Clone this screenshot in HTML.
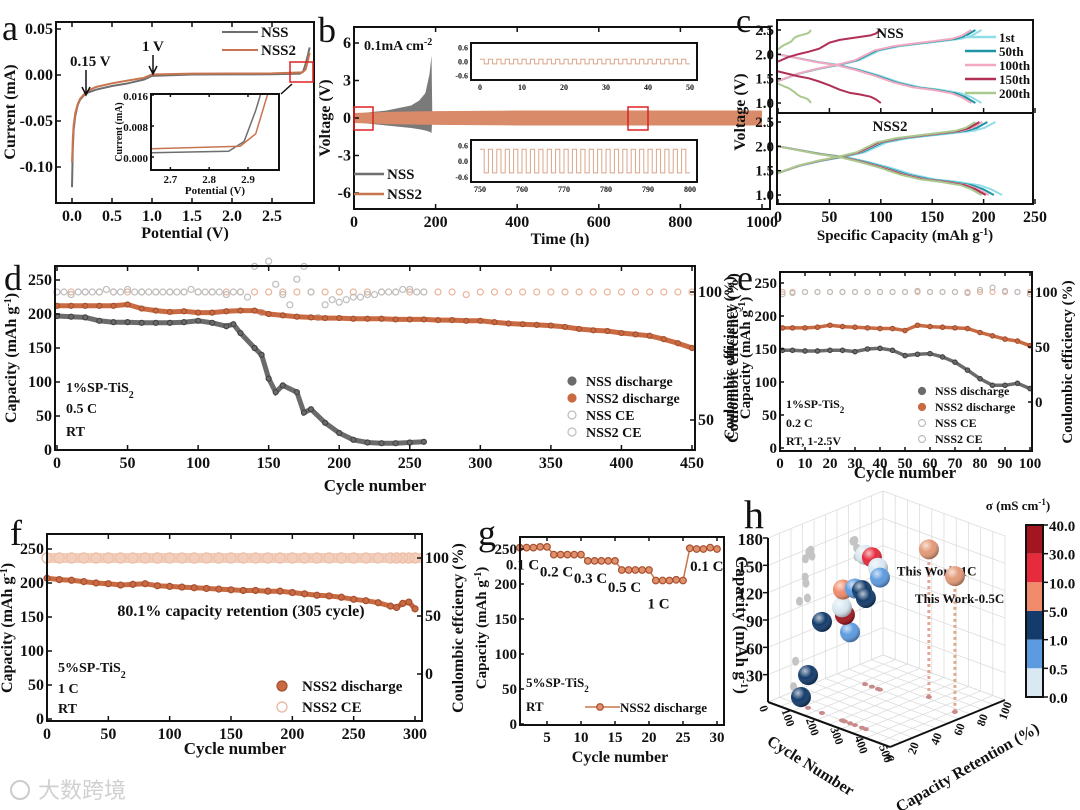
<!DOCTYPE html>
<html><head><meta charset="utf-8"><style>
html,body{margin:0;padding:0;background:#fff}
svg{display:block;font-family:"Liberation Serif","Noto Serif CJK SC",serif;font-weight:bold}
</style></head><body>
<svg id="fig" width="1080" height="810" viewBox="0 0 1080 810" xmlns="http://www.w3.org/2000/svg">
<defs>
<clipPath id="clipA"><rect x="56" y="22" width="258" height="181"/></clipPath>
<clipPath id="clipAi"><rect x="151" y="94" width="128" height="76"/></clipPath>
<clipPath id="clipB"><rect x="354" y="27" width="416" height="182"/></clipPath>
<clipPath id="clipCt"><rect x="777" y="20" width="256" height="93"/></clipPath>
<clipPath id="clipCb"><rect x="777" y="113" width="256" height="91"/></clipPath>
<radialGradient id="shine" cx="35%" cy="30%" r="70%"><stop offset="0" stop-color="#fff" stop-opacity="0.7"/><stop offset="0.5" stop-color="#fff" stop-opacity="0"/><stop offset="1" stop-color="#000" stop-opacity="0.3"/></radialGradient>
</defs>
<g id="root"></g>
</svg>
<script>
// ---------- DATA ----------
// panel a (CV)
const aNssV=[0,0.005,0.01,0.02,0.04,0.07,0.1,0.15,0.2,0.3,0.5,0.7,0.9,1.0,1.5,2.0,2.5,2.85,2.89,2.92,2.95,2.97];
const aNssI=[-0.122,-0.1,-0.08,-0.06,-0.045,-0.033,-0.027,-0.022,-0.019,-0.016,-0.012,-0.009,-0.005,-0.001,0.0005,0.0007,0.0008,0.0015,0.004,0.012,0.022,0.03];
const aNss2V=[0,0.005,0.01,0.02,0.04,0.07,0.1,0.15,0.2,0.3,0.5,0.7,0.9,1.0,1.5,2.0,2.5,2.88,2.92,2.95,2.97];
const aNss2I=[-0.095,-0.085,-0.07,-0.055,-0.042,-0.032,-0.026,-0.021,-0.017,-0.013,-0.009,-0.006,-0.003,0.0005,0.0015,0.0016,0.0017,0.0028,0.006,0.016,0.024];
const aXTicks=[0,0.5,1.0,1.5,2.0,2.5];
const aYTicks=[0.05,0,-0.05,-0.10];
const aYLabels=["0.05","0.00","-0.05","-0.10"];
const aInXTicks=[2.7,2.8,2.9];
const aInYTicks=[0.016,0.008,0];
const aInYLabels=["0.016","0.008","0.000"];
// panel b (voltage profile)
const bNssT=[0,20,50,80,110,140,160,175,185,190,192];
const bNssUp=[0.3,0.4,0.5,0.6,0.8,1.0,1.4,2.0,3.5,5.0,0];
const bNssLo=[-0.3,-0.4,-0.5,-0.6,-0.7,-0.8,-0.9,-1.0,-1.1,-1.2,0];
const bNss2T=[0,100,200,400,600,800,1000];
const bNss2Amp=[0.4,0.5,0.55,0.6,0.6,0.6,0.6];
const bXTicks=[0,200,400,600,800,1000];
const bYTicks=[6,3,0,-3,-6];
const bInsetTopAmp=[0.1];
const bInsetBotAmp=[0.45];
// panel c
const cFrac=[0,0.1,0.2,0.3,0.4,0.5,0.6,0.7,0.8,0.9,0.95,1];
const cChgV=[1.45,1.6,1.7,1.78,1.88,2.08,2.17,2.22,2.27,2.32,2.38,2.5];
const cDisV=[2.0,1.92,1.84,1.78,1.68,1.56,1.42,1.32,1.27,1.2,1.12,1.0];
const cNames=["1st","50th","100th","150th","200th"];
const cNssCap=[198,192,188,100,32];
const cNss2Cap=[218,210,205,202,198];
const cNssChgStart=[1.45,1.45,1.45,1.85,2.1];
const cNssDisStart=[2.0,2.0,2.0,1.65,1.4];
const cXTicks=[0,50,100,150,200,250];
const cYTicks=[1.0,1.5,2.0,2.5];
// panel d
const dNssC=[0,10,20,30,40,50,60,70,80,90,100,110,120,125,130,140,145,150,155,160,170,175,180,190,200,210,220,230,240,250,260];
const dNssQ=[197,196,195,190,188,188,187,187,187,188,190,187,182,185,172,150,140,105,85,95,85,55,60,40,25,15,11,10,10,11,12];
const dNss2C=[0,10,20,30,40,50,60,70,80,90,100,110,120,130,140,150,160,170,180,190,200,210,220,230,240,250,260,270,280,290,300,310,320,330,340,350,360,370,380,390,400,410,420,430,440,450];
const dNss2Q=[212,212,212,212,212,214,208,205,203,204,202,202,204,205,205,200,198,196,195,194,194,193,193,193,192,192,192,191,191,190,190,188,186,185,184,183,181,178,176,175,172,170,168,163,157,150];
const dNssCEc=[0,5,10,15,20,25,30,35,40,45,50,55,60,65,70,75,80,85,90,95,100,105,110,115,120,125,130,135,140,145,150,155,160,165,170,175,180,185,190,195,200,205,210,215,220,225,230,235,240,245,250,255,260];
const dNssCE=[100,100,99,100,100,100,100,101,100,100,101,100,100,100,100,100,100,100,100,101,100,100,100,100,99,100,100,98,110,92,112,103,99,95,105,110,100,90,95,97,96,97,98,98,99,99,100,100,100,101,101,100,100];
const dNss2CEc=[0,10,20,30,40,50,60,70,80,90,100,110,120,130,140,150,160,170,180,190,200,210,220,230,240,250,260,270,280,290,300,310,320,330,340,350,360,370,380,390,400,410,420,430,440,450];
const dNss2CE=[100,100,100,100,100,100,100,100,100,100,100,100,100,100,100,100,100,100,100,100,100,100,100,100,100,100,100,100,100,99,100,100,100,100,100,100,100,100,100,100,100,100,100,100,100,100];
const dXTicks=[0,50,100,150,200,250,300,350,400,450];
const dYTicks=[0,50,100,150,200,250];
const dY2Ticks=[50,100];
// panel e
const eC=[1,5,10,15,20,25,30,35,40,45,50,55,60,65,70,75,80,85,90,95,100];
const eNss=[148,148,147,147,148,148,146,150,151,148,140,142,143,138,130,118,105,95,95,98,90];
const eNss2=[182,182,182,183,186,184,183,182,181,181,178,186,184,183,182,181,175,170,165,162,155];
const eNssCE=[98,99,100,100,100,100,100,100,100,100,100,101,100,100,100,99,102,104,101,100,98];
const eNss2CE=[100,100,100,100,100,100,100,100,100,100,100,100,100,100,100,100,100,100,100,100,100];
const eXTicks=[0,10,20,30,40,50,60,70,80,90,100];
const eYTicks=[0,50,100,150,200,250];
const eY2Ticks=[0,50,100];
// panel f
const fC=[0,10,20,30,40,50,60,70,80,90,100,110,120,130,140,150,160,170,180,190,200,210,220,230,240,250,260,270,280,285,290,295,300];
const fQ=[207,205,204,202,200,199,197,198,199,196,195,194,193,192,191,190,189,189,188,188,186,184,182,181,179,176,174,171,166,164,170,172,162];
const fCE=[100,100,100,100,100,100,100,100,100,100,100,100,100,100,100,100,100,100,100,100,100,100,100,100,100,100,100,100,100,100,100,100,100];
const fXTicks=[0,50,100,150,200,250,300];
const fYTicks=[0,50,100,150,200,250];
const fY2Ticks=[0,50,100];
// panel g
const gC=[1,2,3,4,5,6,7,8,9,10,11,12,13,14,15,16,17,18,19,20,21,22,23,24,25,26,27,28,29,30];
const gQ=[252,252,252,253,253,242,242,242,242,242,233,233,233,233,233,220,220,220,220,220,205,205,205,206,205,251,250,250,252,250];
const gRates=["0.1 C","0.2 C","0.3 C","0.5 C","1 C","0.1 C"];
const gXTicks=[5,10,15,20,25,30];
const gYTicks=[0,50,100,150,200,250];
// panel h
const hCycle=[88,117,174,289,268,256,260,309,338,354,115,143,168,176];
const hRet=[10,10,10,10,10,10,10,10,10,10,60,60,60,60];
const hCap=[9,36,100,100,117,124,144,150,151,144,142,142,133,123];
const hSigma=[3,3,3,0.7,35,0.2,7,0.7,3,3,0.2,20,0.2,0.7];
const hWorkCycle=[320,455];
const hWorkRet=[72,66];
const hWorkCap=[162,149];
const hWorkLabel=["This Work-1C","This Work-0.5C"];
const hCapTicks=[30,60,90,120,150,180];
const hCycTicks=[0,100,200,300,400,500];
const hRetTicks=[0,20,40,60,80,100];
const hBarBounds=["40.0","30.0","10.0","5.0","1.0","0.5","0.0"];
const hBarLimits=[40,30,10,5,1,0.5,0];

// ---------- HELPERS ----------
const NS="http://www.w3.org/2000/svg";
const root=document.getElementById('root');
function el(tag,attrs,name,parent){
  const e=document.createElementNS(NS,tag);
  for(const k in attrs) e.setAttribute(k,attrs[k]);
  
  
  (parent||root).appendChild(e);
  return e;
}
function tx(x,y,s,size,name,opt){
  opt=opt||{};
  const t=el('text',{x:x,y:y,'font-size':size,'text-anchor':opt.anchor||'start',fill:opt.fill||'#111','font-weight':opt.weight||'bold'},name,opt.parent);
  if(opt.rot!==undefined) t.setAttribute('transform','rotate('+opt.rot+' '+x+' '+y+')');
  if(opt.family) t.setAttribute('font-family',opt.family);
  t.innerHTML=s;
  return t;
}
function L(d0,d1,p0,p1){return v=>p0+(v-d0)*(p1-p0)/(d1-d0);}
function frame(x0,y0,x1,y1,name){el('rect',{x:x0,y:y0,width:x1-x0,height:y1-y0,fill:'none',stroke:'#111','stroke-width':2},name);}
function xticks(vals,sx,y0,y1,size,labels,name,fs){
  vals.forEach((v,i)=>{
    el('line',{x1:sx(v),x2:sx(v),y1:y1,y2:y1-size,stroke:'#111','stroke-width':1.5},name+'-tick');
    el('line',{x1:sx(v),x2:sx(v),y1:y0,y2:y0+size,stroke:'#111','stroke-width':1.5},name+'-tick-top');
    tx(sx(v),y1+(fs||15)+2,labels?labels[i]:String(v),fs||15,name+'-label',{anchor:'middle'});
  });
}
function yticks(vals,sy,x,size,labels,name,fs,right){
  vals.forEach((v,i)=>{
    el('line',{x1:x,x2:right?x-size:x+size,y1:sy(v),y2:sy(v),stroke:'#111','stroke-width':1.5},name+'-tick');
    tx(right?x+3:x-3,sy(v)+5,labels?labels[i]:String(v),fs||15,name+'-label',{anchor:right?'start':'end'});
  });
}
function poly(xs,ys,sx,sy,attrs,name,parent){
  const pts=xs.map((v,i)=>sx(v).toFixed(1)+','+sy(ys[i]).toFixed(1)).join(' ');
  return el('polyline',Object.assign({points:pts,fill:'none'},attrs),name,parent);
}
function dots(xs,ys,sx,sy,r,fill,stroke,name,hollow){
  const g=el('g',{},name);
  xs.forEach((v,i)=>{el('circle',{cx:sx(v),cy:sy(ys[i]),r:r,fill:hollow?'none':fill,stroke:stroke,'stroke-width':1.2},name+'-point',g);});
  return g;
}
function mark(x,y,r,fill,stroke,hollow,name){el('circle',{cx:x,cy:y,r:r,fill:hollow?'none':fill,stroke:stroke,'stroke-width':1.2},name);}
const GRAY='#6b6b6b',ORG='#c96a42',LGRAY='#bdbdbd',LORG='#eab39a';

// ---------- PANEL A ----------
tx(2,40,'a',36,'panel-a-letter',{weight:'normal'});
{
 const sx=L(0,2.5,72,272), sy=L(0,0.05,75,29);
 const g=el('g',{'clip-path':'url(#clipA)'},'panel-a-plot');
 poly(aNssV,aNssI,sx,sy,{stroke:'#6e6e6e','stroke-width':2},'nss-cv-line',g);
 poly(aNss2V,aNss2I,sx,sy,{stroke:'#c8754f','stroke-width':2},'nss2-cv-line',g);
 frame(56,22,314,203,'panel-a-frame');
 xticks(aXTicks,sx,22,203,5,aXTicks.map(v=>v.toFixed(1)),'a-x',16);
 yticks(aYTicks,sy,56,5,aYLabels,'a-y',16);
 tx(185,238,'Potential (V)',16,'a-x-title',{anchor:'middle'});
 tx(15,112,'Current (mA)',16,'a-y-title',{anchor:'middle',rot:-90});
 el('line',{x1:222,x2:258,y1:32,y2:32,stroke:'#6e6e6e','stroke-width':2},'a-legend-nss-line');
 tx(261,37,'NSS',15,'a-legend-nss');
 el('line',{x1:222,x2:258,y1:50,y2:50,stroke:'#c8754f','stroke-width':2},'a-legend-nss2-line');
 tx(261,55,'NSS2',15,'a-legend-nss2');
 tx(70,66,'0.15 V',15,'annotation-0.15v');
 el('path',{d:'M86 70 L86 94 M82 87 L86 95 L90 87',stroke:'#111','stroke-width':1.5,fill:'none'},'arrow-0.15v');
 tx(142,51,'1 V',15,'annotation-1v');
 el('path',{d:'M153 55 L153 73 M149 66 L153 74 L157 66',stroke:'#111','stroke-width':1.5,fill:'none'},'arrow-1v');
 el('rect',{x:290,y:62,width:23,height:20,fill:'none',stroke:'#d22','stroke-width':1.5},'zoom-box-a');
 el('path',{d:'M292 84 L281 94',stroke:'#111','stroke-width':1.5},'zoom-arrow-a');
 el('rect',{x:151,y:94,width:128,height:76,fill:'#fff'},'inset-bg');
 const ix=L(2.65,2.98,151,279), iy=L(0,0.016,157,95);
 const gi=el('g',{'clip-path':'url(#clipAi)'},'inset-plot');
 poly(aNssV,aNssI,ix,iy,{stroke:'#6e6e6e','stroke-width':1.5},'inset-nss-line',gi);
 poly(aNss2V,aNss2I,ix,iy,{stroke:'#c8754f','stroke-width':1.5},'inset-nss2-line',gi);
 frame(151,94,279,170,'inset-frame');
 xticks(aInXTicks,ix,94,170,3,aInXTicks.map(v=>v.toFixed(1)),'inset-x',11);
 yticks(aInYTicks,iy,151,3,aInYLabels,'inset-y',11);
 tx(215,194,'Potential (V)',11,'inset-x-title',{anchor:'middle'});
 tx(122,132,'Current (mA)',10,'inset-y-title',{anchor:'middle',rot:-90});
}
// ---------- PANEL B ----------
tx(318,42,'b',36,'panel-b-letter',{weight:'normal'});
{
 const sx=L(0,1000,354,762), sy=L(0,6,118,43);
 const g=el('g',{'clip-path':'url(#clipB)'},'panel-b-plot');
 let up=bNssT.map((t,i)=>sx(t)+','+sy(bNssUp[i])).join(' ');
 let lo=bNssT.slice().reverse().map((t,i)=>{const j=bNssT.length-1-i;return sx(t)+','+sy(bNssLo[j]);}).join(' ');
 el('polygon',{points:up+' '+lo,fill:'#7a7a7a'},'nss-voltage-envelope',g);
 up=bNss2T.map((t,i)=>sx(t)+','+sy(bNss2Amp[i])).join(' ');
 lo=bNss2T.slice().reverse().map((t,i)=>{const j=bNss2T.length-1-i;return sx(t)+','+sy(-bNss2Amp[j]);}).join(' ');
 el('polygon',{points:up+' '+lo,fill:'#d98a68'},'nss2-voltage-envelope',g);
 frame(354,27,770,209,'panel-b-frame');
 xticks(bXTicks,sx,27,209,5,null,'b-x',16);
 yticks(bYTicks,sy,354,5,null,'b-y',16);
 tx(560,244,'Time (h)',16,'b-x-title',{anchor:'middle'});
 tx(330,118,'Voltage (V)',16,'b-y-title',{anchor:'middle',rot:-90});
 tx(364,50,'0.1mA cm<tspan baseline-shift="super" font-size="10">-2</tspan>',14,'b-current-label');
 el('line',{x1:354,x2:384,y1:174,y2:174,stroke:'#6e6e6e','stroke-width':2.5},'b-legend-nss-line');
 tx(387,179,'NSS',15,'b-legend-nss');
 el('line',{x1:354,x2:384,y1:194,y2:194,stroke:'#c8754f','stroke-width':2.5},'b-legend-nss2-line');
 tx(387,199,'NSS2',15,'b-legend-nss2');
 el('rect',{x:354,y:107,width:19,height:23,fill:'none',stroke:'#d22','stroke-width':1.5},'zoom-box-b1');
 el('rect',{x:628,y:107,width:20,height:23,fill:'none',stroke:'#d22','stroke-width':1.5},'zoom-box-b2');
 [[43,80,0,50,bInsetTopAmp[0],[0,10,20,30,40,50],'inset-top'],[140,182,750,800,bInsetBotAmp[0],[750,760,770,780,790,800],'inset-bottom']].forEach(p=>{
   const [y0,y1,t0,t1,amp,tk,nm]=p;
   el('rect',{x:471,y:y0,width:226,height:y1-y0,fill:'#fff'},nm+'-bg');
   const ix=L(t0,t1,480,690), iy=L(-0.8,0.8,y1,y0);
   let pts=[];
   for(let t=t0;t<t1;t+=1){const v=((t-t0)%2===0)?amp:-amp;pts.push(ix(t)+','+iy(v));pts.push(ix(t+1)+','+iy(v));}
   el('polyline',{points:pts.join(' '),fill:'none',stroke:'#d9a58a','stroke-width':1},nm+'-wave');
   frame(471,y0,697,y1,nm+'-frame');
   [0.6,0,-0.6].forEach(v=>tx(468,iy(v)+3,v.toFixed(1),8,nm+'-y-label',{anchor:'end'}));
   tk.forEach(v=>tx(ix(v),y1+10,String(v),8,nm+'-x-label',{anchor:'middle'}));
 });
}
// ---------- PANEL C ----------
tx(736,32,'c',34,'panel-c-letter',{weight:'normal'});
{
 const sx=L(0,250,778,1035), syT=L(1,2.5,103,30), syB=L(1,2.5,195,122);
 const cols=['#8fdde6','#1e95a5','#f2a9c0','#b03055','#a9c98f'];
 const gt=el('g',{'clip-path':'url(#clipCt)'},'panel-c-top-plot');
 const gb=el('g',{'clip-path':'url(#clipCb)'},'panel-c-bottom-plot');
 cNames.forEach((nm,k)=>{
   const cap=cNssCap[k];
   const chg=cChgV.map(v=>cNssChgStart[k]+(v-cChgV[0])*(2.5-cNssChgStart[k])/(2.5-cChgV[0]));
   const dis=cDisV.map(v=>1.0+(v-1.0)*(cNssDisStart[k]-1.0)/(cDisV[0]-1.0));
   poly(cFrac.map(f=>f*cap),chg,sx,syT,{stroke:cols[k],'stroke-width':2},'nss-charge-'+nm,gt);
   poly(cFrac.map(f=>f*cap),dis,sx,syT,{stroke:cols[k],'stroke-width':2},'nss-discharge-'+nm,gt);
   const c2=cNss2Cap[k];
   poly(cFrac.map(f=>f*c2*0.97),cChgV,sx,syB,{stroke:cols[k],'stroke-width':2},'nss2-charge-'+nm,gb);
   poly(cFrac.map(f=>f*c2),cDisV,sx,syB,{stroke:cols[k],'stroke-width':2},'nss2-discharge-'+nm,gb);
   el('line',{x1:965,x2:996,y1:37+k*14,y2:37+k*14,stroke:cols[k],'stroke-width':2.5},'c-legend-line-'+nm);
   tx(999,42+k*14,nm,13,'c-legend-'+nm);
 });
 frame(777,20,1033,204,'panel-c-frame');
 el('line',{x1:777,x2:1033,y1:113,y2:113,stroke:'#111','stroke-width':2},'panel-c-divider');
 cXTicks.forEach(v=>{el('line',{x1:sx(v),x2:sx(v),y1:204,y2:199,stroke:'#111','stroke-width':1.5},'c-x-tick');el('line',{x1:sx(v),x2:sx(v),y1:113,y2:108,stroke:'#111','stroke-width':1.5},'c-x-tick-mid');tx(sx(v),222,String(v),16,'c-x-label',{anchor:'middle'});});
 yticks(cYTicks,syT,777,4,cYTicks.map(v=>v.toFixed(1)),'c-y-top',15);
 yticks(cYTicks,syB,777,4,cYTicks.map(v=>v.toFixed(1)),'c-y-bottom',15);
 tx(905,240,'Specific Capacity (mAh g<tspan baseline-shift="super" font-size="10">-1</tspan>)',15,'c-x-title',{anchor:'middle'});
 tx(745,112,'Voltage (V)',16,'c-y-title',{anchor:'middle',rot:-90});
 tx(890,38,'NSS',15,'c-top-title',{anchor:'middle'});
 tx(890,131,'NSS2',15,'c-bottom-title',{anchor:'middle'});
}
// ---------- PANEL D ----------
tx(4,290,'d',36,'panel-d-letter',{weight:'normal'});
{
 const sx=L(0,450,57,692), sy=L(0,250,450,280), sy2=L(50,100,420,292);
 dots(dNss2CEc,dNss2CE,sx,sy2,3,'none',LORG,'nss2-ce-points',true);
 dots(dNssCEc,dNssCE,sx,sy2,3,'none',LGRAY,'nss-ce-points',true);
 poly(dNss2C,dNss2Q,sx,sy,{stroke:ORG,'stroke-width':5},'nss2-discharge-line');
 dots(dNss2C,dNss2Q,sx,sy,2.5,ORG,'#a65030','nss2-discharge-points');
 poly(dNssC,dNssQ,sx,sy,{stroke:GRAY,'stroke-width':5},'nss-discharge-line');
 dots(dNssC,dNssQ,sx,sy,2.5,GRAY,'#444','nss-discharge-points');
 frame(55,266,695,450,'panel-d-frame');
 xticks(dXTicks,sx,266,450,5,null,'d-x',16);
 yticks(dYTicks,sy,55,5,null,'d-y',16);
 yticks(dY2Ticks,sy2,695,5,null,'d-y2',16,true);
 tx(375,491,'Cycle number',17,'d-x-title',{anchor:'middle'});
 tx(16,358,'Capacity (mAh g<tspan baseline-shift="super" font-size="10">-1</tspan>)',16,'d-y-title',{anchor:'middle',rot:-90});
 tx(738,358,'Coulombic effciency (%)',16,'d-y2-title',{anchor:'middle',rot:-90});
 tx(66,392,'1%SP-TiS<tspan baseline-shift="sub" font-size="10">2</tspan>',14,'d-condition-material');
 tx(66,413,'0.5 C',14,'d-condition-rate');
 tx(66,436,'RT',14,'d-condition-temp');
 [['NSS discharge',GRAY,false],['NSS2 discharge',ORG,false],['NSS CE',LGRAY,true],['NSS2 CE',LGRAY,true]].forEach((e,i)=>{
   mark(572,381+i*17,4,e[1],e[1],e[2],'d-legend-marker');
   tx(586,386+i*17,e[0],14,'d-legend-entry');
 });
}
// ---------- PANEL E ----------
tx(737,290,'e',36,'panel-e-letter',{weight:'normal'});
{
 const sx=L(0,100,780,1030), sy=L(0,250,448,283), sy2=L(0,100,402,292);
 dots(eC,eNss2CE,sx,sy2,2.5,'none',LORG,'e-nss2-ce-points',true);
 dots(eC,eNssCE,sx,sy2,2.5,'none',LGRAY,'e-nss-ce-points',true);
 poly(eC,eNss2,sx,sy,{stroke:ORG,'stroke-width':3.5},'e-nss2-discharge-line');
 dots(eC,eNss2,sx,sy,2.2,ORG,'#a65030','e-nss2-discharge-points');
 poly(eC,eNss,sx,sy,{stroke:GRAY,'stroke-width':3.5},'e-nss-discharge-line');
 dots(eC,eNss,sx,sy,2.2,GRAY,'#444','e-nss-discharge-points');
 frame(780,272,1032,451,'panel-e-frame');
 xticks(eXTicks,sx,272,451,4,null,'e-x',15);
 yticks(eYTicks,sy,780,4,null,'e-y',15);
 yticks(eY2Ticks,sy2,1032,4,null,'e-y2',15,true);
 tx(905,478,'Cycle number',17,'e-x-title',{anchor:'middle'});
 tx(750,358,'Capacity (mAh g<tspan baseline-shift="super" font-size="10">-1</tspan>)',15,'e-y-title',{anchor:'middle',rot:-90});
 tx(734,358,'Coulombic efficiency (%)',15,'e-y-title-2',{anchor:'middle',rot:-90});
 tx(1072,362,'Coulombic efficiency (%)',15,'e-y2-title',{anchor:'middle',rot:-90});
 tx(786,408,'1%SP-TiS<tspan baseline-shift="sub" font-size="9">2</tspan>',12,'e-condition-material');
 tx(786,427,'0.2 C',12,'e-condition-rate');
 tx(786,445,'RT, 1-2.5V',12,'e-condition-temp');
 [['NSS discharge',GRAY,false],['NSS2 discharge',ORG,false],['NSS CE',LGRAY,true],['NSS2 CE',LGRAY,true]].forEach((e,i)=>{
   mark(922,391+i*16,3.5,e[1],e[1],e[2],'e-legend-marker');
   tx(935,395+i*16,e[0],12,'e-legend-entry');
 });
}
// ---------- PANEL F ----------
tx(10,545,'f',36,'panel-f-letter',{weight:'normal'});
{
 const sx=L(0,300,47,415), sy=L(0,250,719,549), sy2=L(0,100,674,558);
 dots(fC,fCE,sx,sy2,5,'none',LORG,'f-nss2-ce-points',true);
 el('rect',{x:sx(0),y:sy2(100)-5,width:sx(305)-sx(0),height:10,fill:'#efc3ad',opacity:0.8},'f-ce-band');
 poly(fC,fQ,sx,sy,{stroke:ORG,'stroke-width':5},'f-nss2-discharge-line');
 dots(fC,fQ,sx,sy,3,ORG,'#a65030','f-nss2-discharge-points');
 frame(47,534,422,721,'panel-f-frame');
 xticks(fXTicks,sx,534,721,5,null,'f-x',16);
 yticks(fYTicks,sy,47,5,null,'f-y',16);
 yticks(fY2Ticks,sy2,422,5,null,'f-y2',16,true);
 tx(235,754,'Cycle number',17,'f-x-title',{anchor:'middle'});
 tx(12,628,'Capacity (mAh g<tspan baseline-shift="super" font-size="10">-1</tspan>)',16,'f-y-title',{anchor:'middle',rot:-90});
 tx(463,628,'Coulombic effciency (%)',16,'f-y2-title',{anchor:'middle',rot:-90});
 tx(241,616,'80.1% capacity retention (305 cycle)',16,'f-retention-annotation',{anchor:'middle'});
 tx(58,672,'5%SP-TiS<tspan baseline-shift="sub" font-size="10">2</tspan>',14,'f-condition-material');
 tx(58,693,'1 C',14,'f-condition-rate');
 tx(58,713,'RT',14,'f-condition-temp');
 mark(282,686,5,ORG,'#a65030',false,'f-legend-marker-discharge');
 tx(302,691,'NSS2 discharge',15,'f-legend-discharge');
 mark(282,707,5,'none',LORG,true,'f-legend-marker-ce');
 tx(302,712,'NSS2 CE',15,'f-legend-ce');
}
// ---------- PANEL G ----------
tx(478,545,'g',36,'panel-g-letter',{weight:'normal'});
{
 const sx=L(5,30,547,717), sy=L(0,250,724,549);
 poly(gC,gQ,sx,sy,{stroke:'#c8754f','stroke-width':1.5},'g-nss2-discharge-line');
 dots(gC,gQ,sx,sy,3.3,'#e0906a','#a65030','g-nss2-discharge-points');
 frame(520,537,724,725,'panel-g-frame');
 xticks(gXTicks,sx,537,725,4,null,'g-x',15);
 yticks(gYTicks,sy,520,4,null,'g-y',15);
 tx(620,762,'Cycle number',16,'g-x-title',{anchor:'middle'});
 tx(486,628,'Capacity (mAh g<tspan baseline-shift="super" font-size="10">-1</tspan>)',15,'g-y-title',{anchor:'middle',rot:-90});
 gRates.forEach((r,i)=>{
   const c=gC[i*5+1]; const q=gQ[i*5+1];
   const x=i===5?sx(28.5):sx(c)-4;
   tx(x,sy(q)+22+(i===4?6:0),r,15,'g-rate-label',{anchor:'middle'});
 });
 tx(526,687,'5%SP-TiS<tspan baseline-shift="sub" font-size="9">2</tspan>',13,'g-condition-material');
 tx(526,711,'RT',13,'g-condition-temp');
 el('line',{x1:585,x2:620,y1:707,y2:707,stroke:'#c8754f','stroke-width':1.5},'g-legend-line');
 mark(600,707,3.3,'#e0906a','#a65030',false,'g-legend-marker');
 tx(620,712,'NSS2 discharge',13,'g-legend-entry');
}
// ---------- PANEL H ----------
tx(744,528,'h',40,'panel-h-letter',{weight:'normal'});
{
 const O=[768,702], Vc=[122,45], Vr=[115,-47], Vq=[0,-164];
 const P=(c,r,q)=>[O[0]+c/500*Vc[0]+r/100*Vr[0]+q/180*Vq[0], O[1]+c/500*Vc[1]+r/100*Vr[1]+q/180*Vq[1]];
 const line=(a,b,st,w,nm)=>el('line',{x1:a[0],y1:a[1],x2:b[0],y2:b[1],stroke:st,'stroke-width':w},nm);
 for(let c=0;c<=500;c+=50){line(P(c,0,0),P(c,100,0),'#ddd',0.8,'h-floor-grid');line(P(c,100,0),P(c,100,180),'#ddd',0.8,'h-wall-grid');}
 for(let r=0;r<=100;r+=10){line(P(0,r,0),P(500,r,0),'#ddd',0.8,'h-floor-grid');line(P(0,r,0),P(0,r,180),'#ddd',0.8,'h-wall-grid');}
 for(let q=0;q<=180;q+=30){line(P(0,0,q),P(0,100,q),'#ddd',0.8,'h-wall-grid');line(P(0,100,q),P(500,100,q),'#ddd',0.8,'h-wall-grid');}
 line(P(0,0,0),P(0,0,180),'#111',2,'h-capacity-axis');
 line(P(0,0,0),P(500,0,0),'#111',2,'h-cycle-axis');
 line(P(500,0,0),P(500,100,0),'#111',2,'h-retention-axis');
 hCapTicks.forEach(q=>{const p=P(0,0,q);line(p,[p[0]-5,p[1]],'#111',1.5,'h-cap-tick');tx(p[0]-5,p[1]+7,String(q),17,'h-cap-tick-label',{anchor:'end'});});
 hCycTicks.forEach(c=>{const p=P(c,0,0);tx(p[0]-8,p[1]+8,String(c),12,'h-cycle-tick-label',{anchor:'middle',rot:70});});
 hRetTicks.forEach(r=>{const p=P(500,r,0);tx(p[0]+4,p[1]+12,String(r),12,'h-ret-tick-label',{anchor:'middle',rot:-70});});
 tx(736,625,'Capacity (mAh g<tspan baseline-shift="super" font-size="10">-1</tspan>)',17,'h-capacity-title',{anchor:'middle',rot:90});
 tx(808,770,'Cycle Number',16,'h-cycle-title',{anchor:'middle',rot:32});
 tx(970,772,'Capacity Retention (%)',16,'h-retention-title',{anchor:'middle',rot:-30});
 const barCols=['#a3161f','#e52b3c','#f08c6c','#133b6b','#5d9be0','#d9e8f1'];
 const colorOf=s=>{for(let i=0;i<6;i++){if(s<=hBarLimits[i]&&s>hBarLimits[i+1])return barCols[i];}return barCols[5];};
 hCycle.forEach((c,i)=>{const f=P(c,hRet[i],0);el('ellipse',{cx:f[0],cy:f[1],rx:3,ry:2,fill:'#c98a8a'},'h-floor-projection');const w=P(0,hRet[i]+c/500*30,hCap[i]);el('ellipse',{cx:w[0]+8,cy:w[1],rx:3.5,ry:4.5,fill:'#c4c4c4'},'h-wall-projection');});
 hWorkCycle.forEach((c,i)=>{const a=P(c,hWorkRet[i],0),b=P(c,hWorkRet[i],hWorkCap[i]);el('line',{x1:a[0],y1:a[1],x2:b[0],y2:b[1],stroke:'#e0a890','stroke-width':3,'stroke-dasharray':'3,3'},'h-work-dropline');el('ellipse',{cx:a[0],cy:a[1],rx:3,ry:2,fill:'#c98a8a'},'h-work-floor');});
 hCycle.forEach((c,i)=>{const p=P(c,hRet[i],hCap[i]);el('circle',{cx:p[0],cy:p[1],r:10,fill:colorOf(hSigma[i])},'h-literature-ball');el('circle',{cx:p[0],cy:p[1],r:10,fill:'url(#shine)'},'h-ball-shading');});
 hWorkCycle.forEach((c,i)=>{const p=P(c,hWorkRet[i],hWorkCap[i]);el('circle',{cx:p[0],cy:p[1],r:10,fill:'#e39a78'},'h-this-work-ball');el('circle',{cx:p[0],cy:p[1],r:10,fill:'url(#shine)'},'h-ball-shading');tx(p[0]+(i===0?-32:-40),p[1]+(i===0?26:27),hWorkLabel[i],13,'h-this-work-label');});
 const by=L(0,6,525,697);
 barCols.forEach((col,i)=>el('rect',{x:1026,y:by(i),width:17,height:by(1)-by(0),fill:col},'h-colorbar-bin'));
 el('rect',{x:1026,y:525,width:17,height:172,fill:'none',stroke:'#111','stroke-width':2},'h-colorbar-frame');
 hBarBounds.forEach((s,i)=>{el('line',{x1:1043,x2:1048,y1:by(i),y2:by(i),stroke:'#111','stroke-width':1.5},'h-colorbar-tick');tx(1049,by(i)+6,s,15,'h-colorbar-label');});
 tx(1018,510,'σ (mS cm<tspan baseline-shift="super" font-size="9">-1</tspan>)',13,'h-colorbar-title',{anchor:'middle'});
}
el('circle',{cx:20,cy:790,r:9,fill:'none',stroke:'#ccc','stroke-width':2},'watermark-logo');
tx(38,798,'大数跨境',22,'watermark-text',{fill:'#d0d0d0',weight:'normal',family:'"Noto Sans CJK SC",sans-serif'});
</script>
</body></html>
